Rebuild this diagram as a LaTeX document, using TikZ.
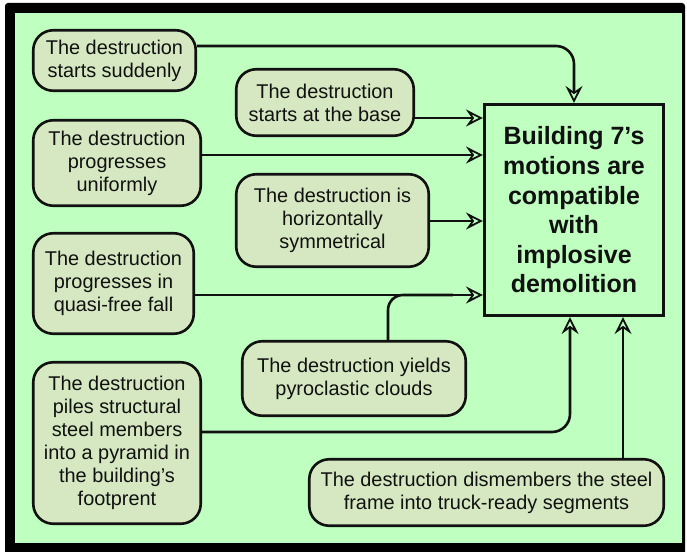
\documentclass[tikz,border=0pt]{standalone}
\usepackage{fontspec}
\setmainfont{Liberation Sans}
\usetikzlibrary{arrows.meta,calc}
\definecolor{bggreen}{RGB}{191,255,192}
\definecolor{nodefill}{RGB}{213,232,193}
\definecolor{ink}{RGB}{17,17,17}
\begin{document}
\begin{tikzpicture}[x=1pt,y=-1pt,
  item/.style={draw=ink, line width=2.6pt, fill=nodefill, rounded corners=20pt,
    align=center, inner sep=0pt, text=ink, font=\fontsize{19.9}{23}\selectfont},
  mainbox/.style={draw=ink, line width=2.6pt, fill=bggreen, align=center, inner sep=0pt,
    text=ink, font=\bfseries\fontsize{25}{29.6}\selectfont},
  link/.style={draw=ink, line width=2.6pt},
  conn/.style={link, -{Stealth[open, length=17pt, width=17pt, inset=6pt, line width=1.8pt]}}]
\useasboundingbox (0,0) rectangle (687,551);
\fill[white] (0,0) rectangle (687,551);
\fill[black, rounded corners=3pt] (5,3) rectangle (685,556);
\fill[bggreen] (15,13) rectangle (682,543);

\node[item, minimum width=162.5pt, minimum height=60.5pt] (A) at (114.5,60.5) {The destruction\\starts suddenly};
\node[item, minimum width=177.5pt, minimum height=66.5pt] (B) at (325,102.5) {The destruction\\starts at the base};
\node[item, minimum width=167.5pt, minimum height=85.5pt] (C) at (117,163) {The destruction\\progresses\\uniformly};
\node[item, minimum width=192.5pt, minimum height=92.5pt] (D) at (332.5,220.5) {The destruction is\\horizontally\\symmetrical};
\node[item, minimum width=160.5pt, minimum height=100.5pt] (E) at (113.5,283.5) {The destruction\\progresses in\\quasi-free fall};
\node[item, minimum width=223.5pt, minimum height=74.5pt] (F) at (354,378.5) {The destruction yields\\pyroclastic clouds};
\node[item, minimum width=167.5pt, minimum height=161.5pt] (G) at (117,443) {The destruction\\piles structural\\steel members\\into a pyramid in\\the building’s\\footprent};
\node[item, minimum width=354.5pt, minimum height=66.5pt] (H) at (486.5,492.5) {The destruction dismembers the steel\\frame into truck-ready segments};
\node[mainbox, minimum width=179.5pt, minimum height=211.5pt] (M) at (574,210) {Building 7’s\\motions are\\compatible\\with\\implosive\\demolition};

\draw[conn, rounded corners=18pt] ([yshift=14.5pt]A.east) -| (M.north);
\draw[conn] ([yshift=-15.5pt]B.east) coordinate (b0) -- (b0 -| M.west);
\draw[conn] ([yshift=8pt]C.east) coordinate (c0) -- (c0 -| M.west);
\draw[conn] ([yshift=-0.5pt]D.east) coordinate (d0) -- (d0 -| M.west);
\draw[conn] ([yshift=-11.5pt]E.east) coordinate (e0) -- (e0 -| M.west);
\draw[link, rounded corners=15pt] ([xshift=34pt]F.north) |- ($(e0 -| M.west)+(-30,0)$);
\draw[conn, rounded corners=18pt] ([yshift=11pt]G.east) -| ([xshift=-4pt]M.south);
\draw[conn] ([xshift=136.5pt]H.north) coordinate (h0) -- (h0 |- M.south);
\end{tikzpicture}
\end{document}
